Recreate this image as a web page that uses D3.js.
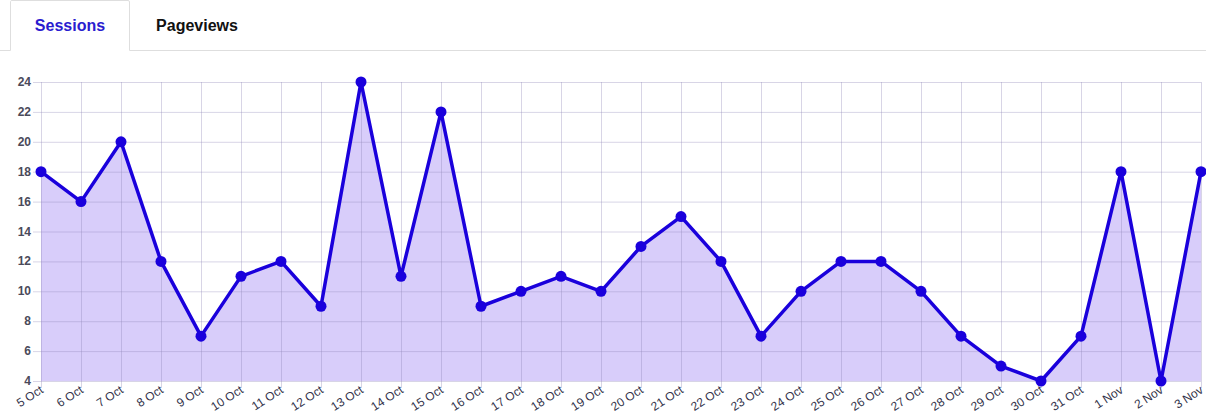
<!DOCTYPE html>
<html>
<head>
<meta charset="utf-8">
<script src="https://cdn.jsdelivr.net/npm/d3@7"></script>
<style>
  body { margin: 0; background: #fff; font-family: Arial, "Liberation Sans", sans-serif; }
  svg { display: block; }
</style>
</head>
<body>
<svg id="chart" width="1206" height="414"></svg>
<script>
// data
const days = ['5 Oct', '6 Oct', '7 Oct', '8 Oct', '9 Oct', '10 Oct', '11 Oct', '12 Oct', '13 Oct', '14 Oct',
  '15 Oct', '16 Oct', '17 Oct', '18 Oct', '19 Oct', '20 Oct', '21 Oct', '22 Oct', '23 Oct', '24 Oct',
  '25 Oct', '26 Oct', '27 Oct', '28 Oct', '29 Oct', '30 Oct', '31 Oct', '1 Nov', '2 Nov', '3 Nov'];
const sessions = [18, 16, 20, 12, 7, 11, 12, 9, 24, 11, 22, 9, 10, 11, 10, 13, 15, 12, 7, 10, 12, 12, 10, 7, 5, 4, 7, 18, 4, 18];
const yTicks = [4, 6, 8, 10, 12, 14, 16, 18, 20, 22, 24];
const tabs = ['Sessions', 'Pageviews'];

const svg = d3.select('#chart');

// tabs
svg.append('path')
  .attr('d', 'M0,50.5 H10.5 V1.5 Q10.5,0.5 12,0.5 H128 Q129.5,0.5 129.5,2 V50.5 H1206')
  .attr('fill', 'none')
  .attr('stroke', '#dedede');
svg.append('text').text(tabs[0])
  .attr('x', 70).attr('y', 31)
  .attr('text-anchor', 'middle')
  .attr('font-size', 16).attr('font-weight', 'bold')
  .attr('fill', '#2a1ccf');
svg.append('text').text(tabs[1])
  .attr('x', 197).attr('y', 31)
  .attr('text-anchor', 'middle')
  .attr('font-size', 16).attr('font-weight', 'bold')
  .attr('fill', '#111');

const x = d3.scalePoint().domain(days).range([41, 1201]);
const y = d3.scaleLinear().domain([4, 24]).range([381, 82]);

const pts = days.map((d, i) => ({ d, v: sessions[i] }));

// area
svg.append('path')
  .datum(pts)
  .attr('fill', '#d8cdfa')
  .attr('d', d3.area().x(p => x(p.d)).y0(y(4)).y1(p => y(p.v)));

// grid
const grid = svg.append('g');
grid.selectAll('.h').data(yTicks).enter().append('line')
  .attr('x1', 33).attr('x2', 1201)
  .attr('y1', d => y(d) + 0.5).attr('y2', d => y(d) + 0.5)
  .attr('stroke', '#8f86b8').attr('stroke-opacity', 0.35);
grid.selectAll('.v').data(days).enter().append('line')
  .attr('x1', d => Math.round(x(d)) + 0.5).attr('x2', d => Math.round(x(d)) + 0.5)
  .attr('y1', y(24)).attr('y2', y(4) + 7)
  .attr('stroke', '#8f86b8').attr('stroke-opacity', 0.35);

// y labels
svg.append('g').selectAll('text').data(yTicks).enter().append('text')
  .text(d => d)
  .attr('x', 31).attr('y', d => y(d) + 4)
  .attr('text-anchor', 'end')
  .attr('font-size', 12).attr('font-weight', 'bold')
  .attr('fill', '#4a4a5a');

// x labels
svg.append('g').selectAll('text').data(days).enter().append('text')
  .text(d => d)
  .attr('text-anchor', 'end')
  .attr('font-size', 12)
  .attr('fill', '#33334a')
  .attr('transform', d => `translate(${x(d) + 3},${y(4) + 11}) rotate(-33)`);

// line
svg.append('path')
  .datum(pts)
  .attr('fill', 'none')
  .attr('stroke', '#1a00dc')
  .attr('stroke-width', 3.5)
  .attr('stroke-linejoin', 'round')
  .attr('d', d3.line().x(p => x(p.d)).y(p => y(p.v)));

// points
svg.append('g').selectAll('circle').data(pts).enter().append('circle')
  .attr('cx', p => x(p.d)).attr('cy', p => y(p.v))
  .attr('r', 5.5)
  .attr('fill', '#1a00dc');
</script>
</body>
</html>
